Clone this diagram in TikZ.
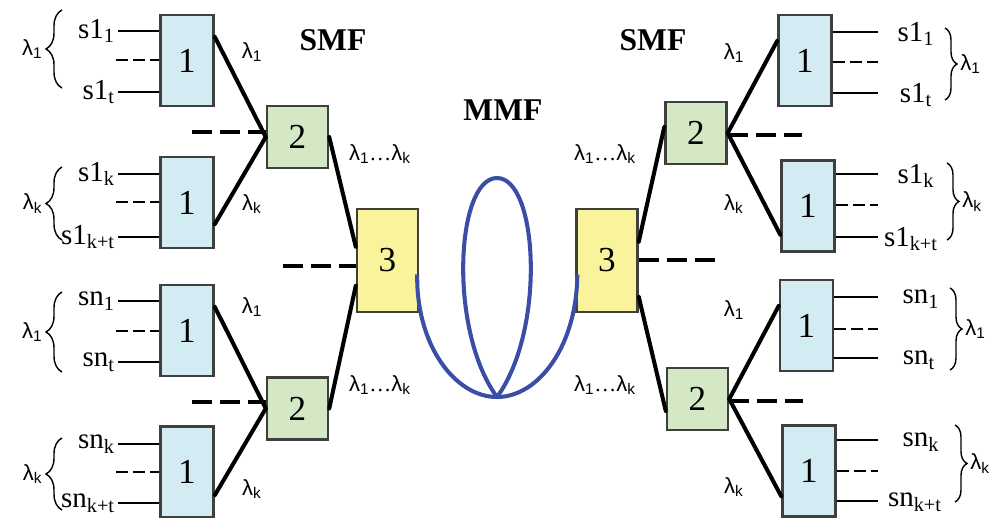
\documentclass[tikz,border=0pt]{standalone}
\usepackage{fontspec}
\setmainfont{Liberation Serif}
\newfontfamily\lamfont{Liberation Sans}
\usetikzlibrary{calc,decorations.pathreplacing}
\definecolor{boxblue}{HTML}{D3EBF3}
\definecolor{boxgreen}{HTML}{D4E8C6}
\definecolor{boxyellow}{HTML}{F9F49C}
\definecolor{edgegray}{HTML}{3F3F3F}
\definecolor{fiberblue}{HTML}{3A4EA6}
\newcommand{\wl}[1]{{\lamfont λ\textsubscript{#1}}}

\begin{document}
\begin{tikzpicture}[x=0.2mm,y=-0.2mm]
\tikzset{
  blockone/.style={rectangle,draw=edgegray,line width=1.4pt,fill=boxblue,minimum width=10.6mm,minimum height=18.2mm,inner sep=0pt,font=\fontsize{20}{20}\selectfont},
  blocktwo/.style={blockone,fill=boxgreen,minimum width=12.2mm,minimum height=12.4mm},
  blockthree/.style={blockone,fill=boxyellow,minimum width=12.2mm,minimum height=20.6mm},
  sigleft/.style={anchor=east,inner sep=1.5pt,font=\fontsize{16.5}{16.5}\selectfont},
  sigright/.style={inner sep=1pt,font=\fontsize{16.5}{16.5}\selectfont},
  lamlabel/.style={inner sep=1pt,font=\fontsize{12.5}{12.5}\selectfont},
  titlelabel/.style={font=\fontsize{18}{18}\selectfont\bfseries},
  inputline/.style={draw=black,line width=1.6pt},
  inputdash/.style={inputline,dash pattern=on 2.4mm off 1mm},
  link/.style={draw=black,line width=2.3pt,line cap=round},
  linkdash/.style={draw=black,line width=2.5pt,dash pattern=on 4mm off 1.6mm},
  fiber/.style={draw=fiberblue,line width=2.3pt},
  wavebrace/.style={draw=black,line width=0.8pt,decorate,decoration={brace,amplitude=3.2mm}},
  wavebraceR/.style={draw=black,line width=0.8pt,decorate,decoration={brace,amplitude=2.4mm}}
}
\useasboundingbox (0,0) rectangle (1000,517);

\node[blockone] (b_1a) at (187,60.5) {1};
\node[blockone] (b_1b) at (187,202.5) {1};
\node[blockone] (b_1c) at (187,330.5) {1};
\node[blockone] (b_1d) at (187,472) {1};
\node[blockone] (b_1e) at (805,60.5) {1};
\node[blockone] (b_1f) at (808,206) {1};
\node[blockone] (b_1g) at (806.5,325.5) {1};
\node[blockone] (b_1h) at (809,471) {1};
\node[blocktwo] (b_2a) at (297.5,137) {2};
\node[blocktwo] (b_2b) at (297.5,408.5) {2};
\node[blocktwo] (b_2c) at (696,133) {2};
\node[blocktwo] (b_2d) at (697.5,399) {2};
\node[blockthree] (b_3a) at (387.5,260.5) {3};
\node[blockthree] (b_3b) at (607,260.5) {3};

\node[titlelabel] (t_smfl) at (333,40) {SMF};
\node[titlelabel] (t_smfr) at (653,40) {SMF};
\node[titlelabel] (t_mmf) at (503,110) {MMF};

\node[sigleft] (s_a1) at (118,31) {s1\textsubscript{1}};
\node[sigleft] (s_a2) at (118,92) {s1\textsubscript{t}};
\node[sigleft] (s_b1) at (118,174) {s1\textsubscript{k}};
\node[sigleft] (s_b2) at (118,237) {s1\textsubscript{k+t}};
\node[sigleft] (s_c1) at (118,301) {sn\textsubscript{1}};
\node[sigleft] (s_c2) at (118,362) {sn\textsubscript{t}};
\node[sigleft] (s_d1) at (118,444) {sn\textsubscript{k}};
\node[sigleft] (s_d2) at (118,503) {sn\textsubscript{k+t}};
\draw[inputline] (s_a1.east) -- (s_a1.east -| b_1a.west);
\draw[inputline] (s_a2.east) -- (s_a2.east -| b_1a.west);
\draw[inputline] (s_b1.east) -- (s_b1.east -| b_1b.west);
\draw[inputline] (s_b2.east) -- (s_b2.east -| b_1b.west);
\draw[inputline] (s_c1.east) -- (s_c1.east -| b_1c.west);
\draw[inputline] (s_c2.east) -- (s_c2.east -| b_1c.west);
\draw[inputline] (s_d1.east) -- (s_d1.east -| b_1d.west);
\draw[inputline] (s_d2.east) -- (s_d2.east -| b_1d.west);
\coordinate (d_a) at (116,60);
\coordinate (d_b) at (116,202);
\coordinate (d_c) at (116,331);
\coordinate (d_d) at (116,472);
\draw[inputdash] (d_a) -- (d_a -| b_1a.west);
\draw[inputdash] (d_b) -- (d_b -| b_1b.west);
\draw[inputdash] (d_c) -- (d_c -| b_1c.west);
\draw[inputdash] (d_d) -- (d_d -| b_1d.west);

\coordinate (e_e1) at (878,32);
\coordinate (e_e2) at (878,62);
\coordinate (e_e3) at (878,93);
\coordinate (e_f1) at (878,174);
\coordinate (e_f2) at (878,205);
\coordinate (e_f3) at (878,237);
\coordinate (e_g1) at (878,297);
\coordinate (e_g2) at (878,329);
\coordinate (e_g3) at (878,358);
\coordinate (e_h1) at (878,440);
\coordinate (e_h2) at (878,471);
\coordinate (e_h3) at (878,501);
\draw[inputline] (b_1e.east |- e_e1) -- (e_e1);
\draw[inputdash] (b_1e.east |- e_e2) -- (e_e2);
\draw[inputline] (b_1e.east |- e_e3) -- (e_e3);
\draw[inputline] (b_1f.east |- e_f1) -- (e_f1);
\draw[inputdash] (b_1f.east |- e_f2) -- (e_f2);
\draw[inputline] (b_1f.east |- e_f3) -- (e_f3);
\draw[inputline] (b_1g.east |- e_g1) -- (e_g1);
\draw[inputdash] (b_1g.east |- e_g2) -- (e_g2);
\draw[inputline] (b_1g.east |- e_g3) -- (e_g3);
\draw[inputline] (b_1h.east |- e_h1) -- (e_h1);
\draw[inputdash] (b_1h.east |- e_h2) -- (e_h2);
\draw[inputline] (b_1h.east |- e_h3) -- (e_h3);
\node[sigright] (s_e1) at (916,34) {s1\textsubscript{1}};
\node[sigright] (s_e2) at (916,95) {s1\textsubscript{t}};
\node[sigright] (s_f1) at (916,176) {s1\textsubscript{k}};
\node[sigright] (s_f2) at (911,239) {s1\textsubscript{k+t}};
\node[sigright] (s_g1) at (921,299) {sn\textsubscript{1}};
\node[sigright] (s_g2) at (919,360) {sn\textsubscript{t}};
\node[sigright] (s_h1) at (921,442) {sn\textsubscript{k}};
\node[sigright] (s_h2) at (915,502) {sn\textsubscript{k+t}};

\draw[wavebrace] (62,88) -- (62,10) node[midway,left=3.4mm,lamlabel] (l_a) {\wl{1}};
\draw[wavebrace] (62,240) -- (62,167) node[midway,left=3.4mm,lamlabel] (l_b) {\wl{k}};
\draw[wavebrace] (62,372) -- (62,292) node[midway,left=3.4mm,lamlabel] (l_c) {\wl{1}};
\draw[wavebrace] (62,510) -- (62,438) node[midway,left=3.4mm,lamlabel] (l_d) {\wl{k}};
\draw[wavebraceR] (945,28) -- (945,100) node[midway,right=2.6mm,lamlabel] (l_e) {\wl{1}};
\draw[wavebraceR] (947,163) -- (947,240) node[midway,right=2.6mm,lamlabel] (l_f) {\wl{k}};
\draw[wavebraceR] (950,288) -- (950,370) node[midway,right=2.6mm,lamlabel] (l_g) {\wl{1}};
\draw[wavebraceR] (955,425) -- (955,502) node[midway,right=2.6mm,lamlabel] (l_h) {\wl{k}};

\draw[link] ($(b_1a.north east)+(0,23)$) -- (b_2a.west);
\draw[link] ($(b_1b.south east)+(0,-25)$) -- (b_2a.west);
\draw[link] ($(b_1c.north east)+(0,23)$) -- (b_2b.west);
\draw[link] ($(b_1d.north east)+(0,70)$) -- (b_2b.west);
\coordinate (k_a) at (192,132);
\coordinate (k_b) at (192,402);
\draw[linkdash] (k_a) -- (k_a -| b_2a.west);
\draw[linkdash] (k_b) -- (k_b -| b_2b.west);
\draw[link] (b_2a.east) -- ($(b_3a.north west)+(0,39)$);
\draw[link] (b_2b.east) -- ($(b_3a.north west)+(0,78)$);
\coordinate (k_c) at (283,266);
\draw[linkdash] (k_c) -- (k_c -| b_3a.west);

\draw[link] ($(b_3b.north east)+(0,34)$) -- ($(b_2c.west)+(0,-6)$);
\draw[link] ($(b_3b.north east)+(0,89)$) -- ($(b_2d.west)+(0,12)$);
\coordinate (k_d) at (722,260);
\draw[linkdash] (b_3b.east |- k_d) -- (k_d);
\draw[link] (b_2c.east) -- ($(b_1e.north west)+(0,27)$);
\draw[link] (b_2c.east) -- ($(b_1f.south west)+(0,-18)$);
\draw[link] (b_2d.east) -- ($(b_1g.north west)+(0,27)$);
\draw[link] (b_2d.east) -- ($(b_1h.north west)+(0,72)$);
\coordinate (k_e) at (802,135);
\coordinate (k_f) at (803,401);
\draw[linkdash] (b_2c.east |- k_e) -- (k_e);
\draw[linkdash] (b_2d.east |- k_f) -- (k_f);

\node[lamlabel] (w_a) at (252,52) {\wl{1}};
\node[lamlabel] (w_b) at (252,204) {\wl{k}};
\node[lamlabel] (w_c) at (252,307) {\wl{1}};
\node[lamlabel] (w_d) at (252,489) {\wl{k}};
\node[lamlabel] (w_e) at (734,53) {\wl{1}};
\node[lamlabel] (w_f) at (734,204) {\wl{k}};
\node[lamlabel] (w_g) at (734,310) {\wl{1}};
\node[lamlabel] (w_h) at (734,487) {\wl{k}};
\node[lamlabel] (w_i) at (380,154) {\wl{1}\ldots\wl{k}};
\node[lamlabel] (w_j) at (380,385) {\wl{1}\ldots\wl{k}};
\node[lamlabel] (w_k) at (605,154) {\wl{1}\ldots\wl{k}};
\node[lamlabel] (w_l) at (605,385) {\wl{1}\ldots\wl{k}};

\coordinate (f_low) at (497,397);
\coordinate (f_top) at (497,178);
\draw[fiber] ($(b_3a.east)+(-2,14)$) .. controls (416,345) and (455,397) .. (f_low);
\draw[fiber] ($(b_3b.west)+(2,14)$) .. controls (577,345) and (539,397) .. (f_low);
\draw[fiber] (f_low) .. controls (448,330) and (456,178) .. (f_top) .. controls (538,178) and (546,330) .. (f_low);
\end{tikzpicture}
\end{document}
